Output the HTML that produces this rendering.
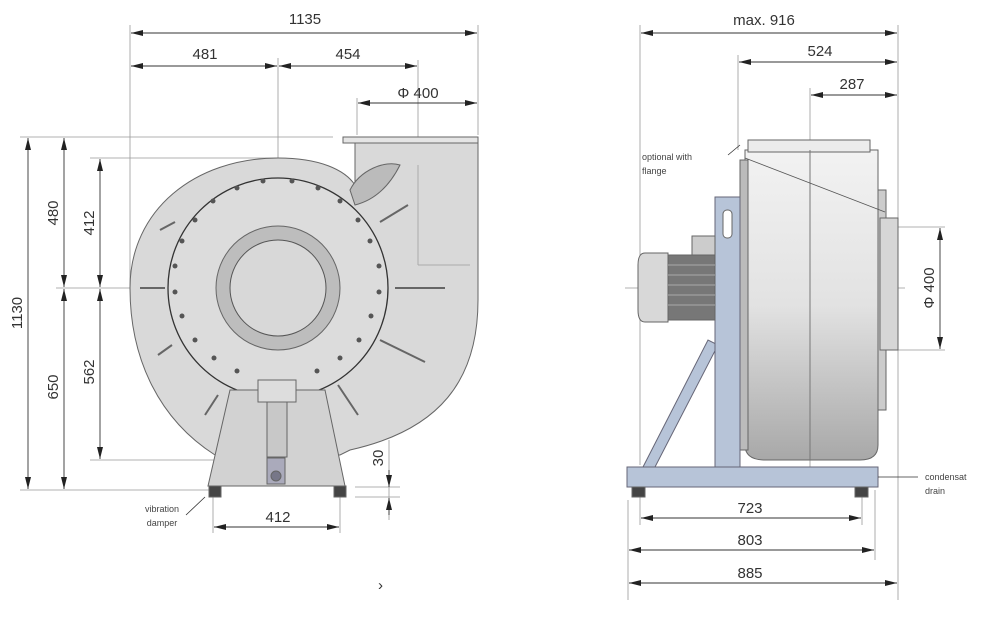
<!DOCTYPE html>
<html><head><style>
body{margin:0;background:#fff}
svg{display:block}
text{font-family:"Liberation Sans",sans-serif;fill:#333}
.d{font-size:15px}
.s{font-size:9px;fill:#444}
</style></head><body>
<svg width="1000" height="617" viewBox="0 0 1000 617" xmlns="http://www.w3.org/2000/svg">
<defs>
<marker id="a" markerWidth="12" markerHeight="6" refX="12" refY="3" orient="auto-start-reverse" markerUnits="userSpaceOnUse"><path d="M0,0L12,3L0,6z" fill="#222"/></marker>
<linearGradient id="g" x1="0" y1="0" x2="0" y2="1"><stop offset="0" stop-color="#f2f2f2"/><stop offset="0.5" stop-color="#e2e2e2"/><stop offset="1" stop-color="#a8a8a8"/></linearGradient>
</defs>
<g stroke="#999" stroke-width="0.8" fill="none">
<!-- extension lines left -->
<line x1="130" y1="25" x2="130" y2="290"/><line x1="478" y1="25" x2="478" y2="135"/>
<line x1="278" y1="58" x2="278" y2="485"/><line x1="418" y1="60" x2="418" y2="265"/>
<line x1="357" y1="98" x2="357" y2="135"/>
<line x1="20" y1="137" x2="333" y2="137"/><line x1="90" y1="158" x2="278" y2="158"/>
<line x1="56" y1="288" x2="470" y2="288"/><line x1="90" y1="460" x2="215" y2="460"/>
<line x1="20" y1="490" x2="210" y2="490"/><line x1="355" y1="487" x2="400" y2="487"/><line x1="355" y1="497" x2="400" y2="497"/>
<line x1="213" y1="497" x2="213" y2="533"/><line x1="340" y1="497" x2="340" y2="533"/>
<line x1="389" y1="440" x2="389" y2="520"/>
<!-- right -->
<line x1="640" y1="25" x2="640" y2="465"/><line x1="898" y1="25" x2="898" y2="600"/>
<line x1="738" y1="55" x2="738" y2="150"/><line x1="810" y1="88" x2="810" y2="470"/>
<line x1="628" y1="500" x2="628" y2="600"/><line x1="875" y1="490" x2="875" y2="560"/>
<line x1="640" y1="495" x2="640" y2="525"/><line x1="862" y1="495" x2="862" y2="525"/>
<line x1="885" y1="227" x2="945" y2="227"/><line x1="885" y1="350" x2="945" y2="350"/>
<line x1="625" y1="288" x2="905" y2="288"/>
</g>
<!-- left fan -->
<g stroke="#666" stroke-width="1">
<path d="M355,140 L478,140 L478,300 C478,380 440,430 350,450 L340,455 L215,455 C160,420 130,360 130,288 C130,210 195,158 278,158 C320,158 345,170 355,185 Z" fill="#d9d9d9"/>
<rect x="343" y="137" width="135" height="6" fill="#e5e5e5"/>
<path d="M350,190 C360,170 385,160 400,165 C390,185 375,200 355,205 Z" fill="#bbb"/>
<line x1="418" y1="165" x2="418" y2="265" stroke="#aaa"/>
<line x1="418" y1="265" x2="470" y2="265" stroke="#aaa"/>
<circle cx="278" cy="288" r="110" fill="#dcdcdc" stroke="#333" stroke-width="1.3"/>
<circle cx="278" cy="288" r="62" fill="#bdbdbd"/>
<circle cx="278" cy="288" r="48" fill="#d8d8d8" stroke="#555"/>
<path d="M230,390 L325,390 L345,486 L208,486 Z" fill="#d2d2d2"/>
<rect x="258" y="380" width="38" height="22" fill="#ddd"/>
<rect x="267" y="402" width="20" height="55" fill="#c8c8c8"/>
<rect x="267" y="458" width="18" height="26" fill="#aab" />
<circle cx="276" cy="476" r="5" fill="#778"/>
<rect x="209" y="486" width="12" height="11" fill="#444"/><rect x="334" y="486" width="12" height="11" fill="#444"/>
</g>
<g fill="#555">
<circle cx="263" cy="181" r="2.5"/><circle cx="292" cy="181" r="2.5"/><circle cx="237" cy="188" r="2.5"/><circle cx="318" cy="188" r="2.5"/>
<circle cx="213" cy="201" r="2.5"/><circle cx="340" cy="201" r="2.5"/><circle cx="195" cy="220" r="2.5"/><circle cx="358" cy="220" r="2.5"/>
<circle cx="182" cy="241" r="2.5"/><circle cx="370" cy="241" r="2.5"/><circle cx="175" cy="266" r="2.5"/><circle cx="379" cy="266" r="2.5"/>
<circle cx="175" cy="292" r="2.5"/><circle cx="379" cy="292" r="2.5"/><circle cx="182" cy="316" r="2.5"/><circle cx="371" cy="316" r="2.5"/>
<circle cx="195" cy="340" r="2.5"/><circle cx="359" cy="340" r="2.5"/><circle cx="214" cy="358" r="2.5"/><circle cx="340" cy="358" r="2.5"/>
<circle cx="237" cy="371" r="2.5"/><circle cx="317" cy="371" r="2.5"/>
</g>
<g stroke="#666" stroke-width="2">
<line x1="380" y1="222" x2="408" y2="205"/><line x1="395" y1="288" x2="445" y2="288"/><line x1="380" y1="340" x2="425" y2="362"/><line x1="338" y1="385" x2="358" y2="415"/>
<line x1="205" y1="415" x2="218" y2="395"/><line x1="158" y1="355" x2="172" y2="345"/><line x1="160" y1="230" x2="175" y2="222"/><line x1="140" y1="288" x2="165" y2="288"/>
</g>
<!-- right fan -->
<g stroke="#666" stroke-width="1">
<rect x="878" y="190" width="8" height="220" fill="#ccc"/>
<rect x="880" y="218" width="18" height="132" fill="#d6d6d6"/>
<path d="M745,150 L878,150 L878,445 Q878,460 860,460 L765,460 Q745,460 745,445 Z" fill="url(#g)"/>
<rect x="740" y="160" width="8" height="290" fill="#bbb"/>
<rect x="748" y="140" width="122" height="12" fill="#ececec"/>
<line x1="810" y1="150" x2="810" y2="460" stroke="#777"/>
<path d="M643,467 L708,340 L718,345 L655,467 Z" fill="#b7c4d8" stroke="#667"/>
<rect x="715" y="197" width="25" height="272" fill="#b7c4d8" stroke="#667"/>
<rect x="723" y="210" width="9" height="28" rx="4" fill="#fff"/>
<rect x="692" y="236" width="23" height="20" fill="#ccc"/>
<path d="M668,253 L645,253 Q638,253 638,265 L638,310 Q638,322 645,322 L668,322 Z" fill="#d8d8d8"/>
<rect x="668" y="255" width="47" height="65" fill="#777"/>
<g stroke="#aaa"><line x1="668" y1="265" x2="715" y2="265"/><line x1="668" y1="275" x2="715" y2="275"/><line x1="668" y1="285" x2="715" y2="285"/><line x1="668" y1="295" x2="715" y2="295"/><line x1="668" y1="305" x2="715" y2="305"/></g>
<rect x="627" y="467" width="251" height="20" fill="#b7c4d8" stroke="#667"/>
<rect x="632" y="487" width="13" height="10" fill="#444"/><rect x="855" y="487" width="13" height="10" fill="#444"/>
</g>
<line x1="745" y1="158" x2="885" y2="212" stroke="#555" stroke-width="0.8"/>
<line x1="728" y1="155" x2="740" y2="145" stroke="#333" stroke-width="0.8"/>
<line x1="878" y1="477" x2="918" y2="477" stroke="#333" stroke-width="0.8"/>
<line x1="186" y1="515" x2="205" y2="497" stroke="#333" stroke-width="0.8"/>
<!-- dimension lines -->
<g stroke="#333" stroke-width="0.9" marker-start="url(#a)" marker-end="url(#a)">
<line x1="131" y1="33" x2="477" y2="33"/>
<line x1="131" y1="66" x2="277" y2="66"/><line x1="279" y1="66" x2="417" y2="66"/>
<line x1="358" y1="103" x2="477" y2="103"/>
<line x1="28" y1="138" x2="28" y2="489"/>
<line x1="64" y1="138" x2="64" y2="287"/><line x1="64" y1="289" x2="64" y2="489"/>
<line x1="100" y1="159" x2="100" y2="287"/><line x1="100" y1="289" x2="100" y2="459"/>
<line x1="214" y1="527" x2="339" y2="527"/>
<line x1="641" y1="33" x2="897" y2="33"/>
<line x1="739" y1="62" x2="897" y2="62"/>
<line x1="811" y1="95" x2="897" y2="95"/>
<line x1="940" y1="228" x2="940" y2="349"/>
<line x1="641" y1="518" x2="861" y2="518"/>
<line x1="629" y1="550" x2="874" y2="550"/>
<line x1="629" y1="583" x2="897" y2="583"/>
</g>
<g stroke="#333" stroke-width="0.9" marker-end="url(#a)"><line x1="389" y1="470" x2="389" y2="487"/><line x1="389" y1="515" x2="389" y2="498"/></g>
<!-- labels -->
<text class="d" x="305" y="24" text-anchor="middle">1135</text>
<text class="d" x="205" y="59" text-anchor="middle">481</text>
<text class="d" x="348" y="59" text-anchor="middle">454</text>
<text class="d" x="418" y="98" text-anchor="middle">Φ 400</text>
<text class="d" transform="translate(22,313) rotate(-90)" text-anchor="middle">1130</text>
<text class="d" transform="translate(58,213) rotate(-90)" text-anchor="middle">480</text>
<text class="d" transform="translate(58,387) rotate(-90)" text-anchor="middle">650</text>
<text class="d" transform="translate(94,223) rotate(-90)" text-anchor="middle">412</text>
<text class="d" transform="translate(94,372) rotate(-90)" text-anchor="middle">562</text>
<text class="d" transform="translate(383,458) rotate(-90)" text-anchor="middle">30</text>
<text class="d" x="278" y="522" text-anchor="middle">412</text>
<text class="s" x="162" y="512" text-anchor="middle">vibration</text>
<text class="s" x="162" y="526" text-anchor="middle">damper</text>
<text class="d" x="378" y="590">›</text>
<text class="d" x="764" y="25" text-anchor="middle">max. 916</text>
<text class="d" x="820" y="56" text-anchor="middle">524</text>
<text class="d" x="852" y="89" text-anchor="middle">287</text>
<text class="d" transform="translate(934,288) rotate(-90)" text-anchor="middle">Φ 400</text>
<text class="s" x="642" y="160">optional with</text>
<text class="s" x="642" y="174">flange</text>
<text class="s" x="925" y="480">condensat</text>
<text class="s" x="925" y="494">drain</text>
<text class="d" x="750" y="513" text-anchor="middle">723</text>
<text class="d" x="750" y="545" text-anchor="middle">803</text>
<text class="d" x="750" y="578" text-anchor="middle">885</text>
</svg>
</body></html>
